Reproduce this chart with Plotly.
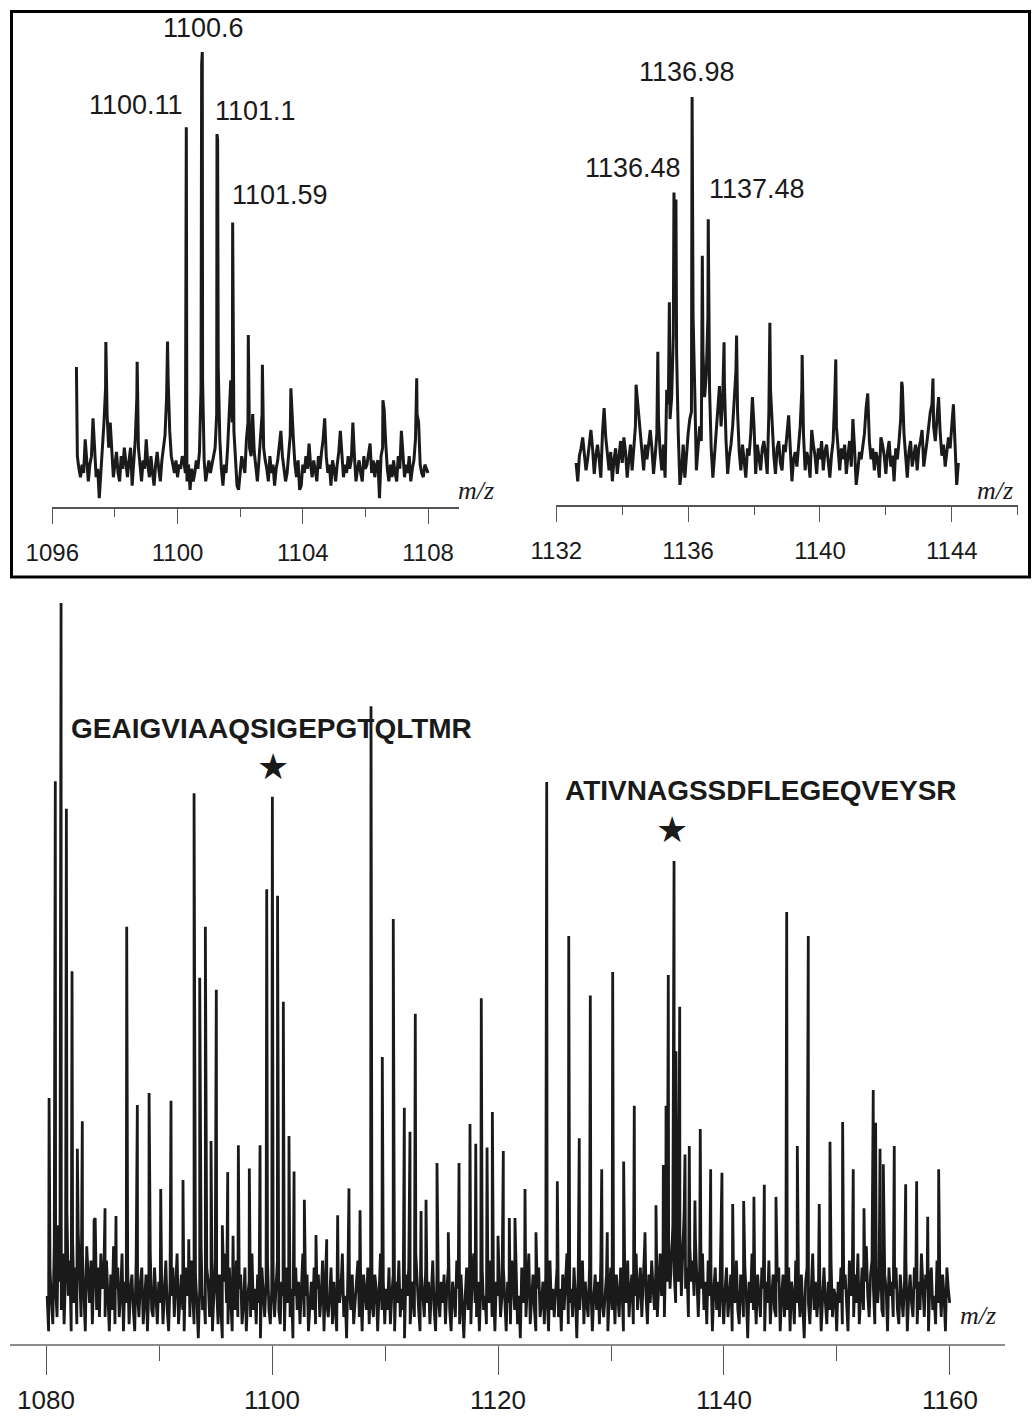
import plotly.graph_objects as go

# ---------------- data ----------------
# Top-left zoom spectrum (m/z 1096-1109): baseline on a 0.05 grid + tall peak apexes
left_noise_start = 1096.80
left_noise_step = 0.05
left_noise = [
    4, 1, -1, 2, 0, 8, 3, -2, 2, 4, 13, 5, -1, 1, -6, 0, 5, 12, 20, 14,
    6, 12, 4, -1, 2, 5, 0, -2, 4, 1, 6, 2, -1, 3, 6, -3, 2, 8, 18, 6,
    2, -2, 3, 1, 8, 2, -1, 4, 0, -3, 2, 5, 1, -2, 3, 6, 9, 18, 22, 10,
    4, 2, 0, 3, -1, 2, 1, 4, 3, 0, -2, 2, -4, 1, -2, 0, 3, 1, 5, 20,
    22, 3, -2, 1, 3, 0, 2, 4, 6, 14, 25, 8, 1, -3, 2, 0, 6, 14, 22, 12,
    10, 2, -3, -4, 1, 4, 2, 0, 8, 12, 6, 4, 14, 5, 1, -2, 3, 8, 14, 6,
    3, 1, -2, 4, 0, 2, -3, 1, 3, 6, 10, 4, 1, -2, 0, 5, 9, 14, 8, 2,
    -1, 3, -4, -3, 2, 0, 4, 1, 7, 2, -1, 3, 0, -2, 4, 1, 5, 8, 13, 4,
    0, 2, -3, 3, 1, -2, 2, 5, 10, 3, -1, 2, 0, 4, 1, 3, 12, 4, -2, 1,
    3, 0, -2, 4, 1, 2, 5, 7, 0, 3, -1, 2, 3, -6, 4, 6, 15, 7, 1, -2,
    2, -1, 3, 0, -2, 4, 1, 10, 3, -1, 2, 0, 4, -2, 1, 3, 8, 14, 12, 2,
    0, -1, 2, 1, 0,
]
left_peak_mz = [1096.77, 1097.71, 1098.71, 1099.68, 1100.28, 1100.77, 1100.79, 1101.26,
                1101.28, 1101.76, 1102.26, 1102.71, 1103.62, 1106.56, 1107.64]
left_peak_int = [25.2, 31.1, 26.4, 31.2, 82.1, 97.0, 100.0, 80.5,
                 79.0, 59.5, 32.8, 25.7, 20.1, 17.3, 22.5]
left_labels = ["1100.11", "1100.6", "1101.1", "1101.59"]

# Top-right zoom spectrum (m/z 1132-1146)
right_noise_start = 1132.60
right_noise_step = 0.05
right_noise = [
    0, -5, 2, 4, 7, 3, -2, 1, 6, 9, 4, -3, 2, 5, 1, -4, 8, 15, 7, 2,
    -2, 3, -5, 1, 4, -3, 2, 6, 0, 7, 3, -4, 1, 5, -2, 4, 10, 18, 14, 8,
    3, -2, 5, 1, 6, 9, 4, -3, 2, 8, 12, 3, -2, 5, -4, 20, 16, 12, 18, 35,
    60, 30, 8, -6, -2, 5, -4, 3, 8, 12, 14, 40, 20, -2, 4, 10, 6, 30, 18, 24,
    40, 20, 4, -4, 2, 8, 14, 21, 10, 18, 22, 6, -3, 2, 5, 10, 18, 25, 14, 3,
    -2, 5, 1, -4, 4, 2, 8, 18, 10, -3, 5, 1, -2, 4, 6, 2, -3, 14, 20, 10,
    2, -3, 4, 6, 0, -2, 5, 3, 9, 13, 4, -5, 1, 3, -1, 5, 10, 20, 8, -2,
    3, 1, -4, 9, 5, 2, -3, 4, 1, 6, -2, 3, 5, 0, -4, 2, 6, 18, 10, 3,
    -2, 4, 1, 5, -3, 2, 6, -1, 12, 4, -6, -2, 3, 1, 5, 8, 15, 19, 6, 1,
    4, -2, 3, 1, -4, 7, 5, 2, -3, 3, 6, -1, 2, -5, 4, 1, 6, 12, 21, 8,
    1, -4, 3, 6, -1, 2, 5, -2, 4, 6, 9, -1, 2, 6, 10, 14, 16, 10, 6, 12,
    18, 8, 2, 5, -1, 3, 7, 4, 10, 16, 5, -6, 0,
]
right_peak_mz = [1134.42, 1135.08, 1135.43, 1135.57, 1135.63, 1136.12, 1136.43, 1136.61,
                 1137.09, 1137.47, 1138.48, 1139.46, 1140.48, 1142.48, 1143.43]
right_peak_int = [21.4, 30.4, 43.9, 73.9, 72.0, 100.0, 56.6, 66.6,
                  33.0, 34.8, 38.3, 29.5, 28.3, 22.2, 23.1]
right_labels = ["1136.48", "1136.98", "1137.48"]

# Bottom full spectrum (m/z 1080-1160), baseline on a 0.125 grid
full_noise_start = 1080.1
full_noise_step = 0.125
full_noise = [
    2, -3, 6, 1, -2, 9, 3, -1, 12, 4, 0, 8, -2, 5, 14, 2, 7, -3, 10, 1,
    6, -2, 11, 3, -1, 8, 2, -3, 9, 4, 1, 7, -2, 5, 13, 0, 6, -1, 8, 3,
    4, -1, 7, 2, -3, 5, 0, 9, -2, 3, 6, -1, 2, 8, -3, 4, 1, 6, -2, 3,
    5, 0, -3, 7, 2, -1, 4, 6, -2, 1, 5, -3, 3, 8, 0, -1, 6, 2, -2, 4,
    1, 5, -2, 3, 7, 0, -3, 4, 2, 6, -1, 3, 8, -2, 1, 5, 0, -3, 6, 2,
    4, -1, 7, 3, -2, 5, 1, -4, 3, 9, 0, 2, -2, 6, 4, -1, 5, -3, 2, 7,
    3, -2, 5, 0, -4, 4, 8, 1, -2, 6, 2, -3, 4, 0, 7, -1, 3, 5, -2, 1,
    6, -3, 2, 4, -1, 8, 0, 3, -2, 5, 1, -4, 6, 2, -1, 4, 7, 0, -2, 3,
    5, -1, 3, 7, 0, -2, 4, 2, -3, 6, 1, 5, -1, 3, -4, 2, 6, 0, 4, -2,
    3, 8, -1, 2, 5, -3, 1, 4, 0, 6, -2, 3, 5, -1, 2, 7, -3, 4, 1, -1,
    2, 6, -2, 4, 0, -3, 5, 1, 3, 8, -1, 2, -4, 6, 3, 0, 5, -2, 1, 4,
    7, -1, 3, -3, 5, 2, 0, 6, -2, 4, 1, -1, 5, 3, -3, 2, 8, 0, 4, -2,
    3, 0, 6, -2, 2, 5, -3, 4, 1, 7, -1, 3, 0, -4, 5, 2, 6, -2, 1, 4,
    -1, 8, 3, 0, -3, 5, 2, -1, 6, 1, 4, -2, 3, 7, 0, -3, 5, 2, -1, 4,
    1, 5, -2, 3, 6, 0, -3, 4, 2, -1, 7, 3, -2, 5, 1, -4, 2, 6, 0, 3,
    -2, 5, 8, 1, -1, 4, -3, 3, 6, 0, 2, -2, 5, 1, 7, -1, 3, -3, 4, 2,
    5, -1, 2, 6, 0, -3, 4, 1, -2, 7, 3, 0, 5, -2, 2, -4, 6, 1, 3, -1,
    4, 8, -2, 2, 5, 0, -3, 3, 6, -1, 1, 4, -2, 5, 2, -3, 7, 0, 3, -1,
    2, 6, -1, 3, -3, 5, 0, 4, 8, -2, 1, 3, -1, 6, 2, -4, 5, 0, 3, 7,
    -2, 4, 1, -1, 6, 3, -3, 2, 5, 0, 4, -2, 7, 1, -1, 3, 5, -3, 2, 6,
    0, 4, -2, 5, 2, -1, 6, 3, -3, 4, 1, 7, -1, 3, 5, -2, 2, 8, 0, 4,
    6, -1, 3, 9, 2, -2, 5, 1, 7, 3, 0, 6, -1, 4, 8, 2, 5, -1, 9, 4,
    10, 3, 7, 12, 5, 1, 9, 4, 11, 2, 8, 14, 3, 6, -1, 9, 4, 7, 2, 10,
    5, -1, 6, 3, 8, 0, 4, -2, 7, 2, 5, -3, 3, 6, 0, 4, -1, 8, 2, -2,
    3, 6, -1, 2, 5, -3, 4, 1, 7, 0, -2, 5, 3, -1, 6, 2, -4, 4, 1, 8,
    0, 3, -2, 5, 2, -1, 6, 3, -3, 4, 1, 7, -2, 2, 5, 0, -1, 4, 6, -3,
    2, 5, -1, 3, 0, 6, -3, 4, 2, -2, 7, 1, 3, -1, 5, 0, -4, 4, 6, 1,
    -2, 3, 8, 0, 4, -1, 2, 5, -3, 3, 6, 1, -2, 4, 0, 7, -1, 3, 2, -3,
    4, 1, 6, -2, 3, 5, 0, -3, 7, 2, 4, -1, 5, 1, 8, -2, 3, 6, 0, 4,
    9, 2, -1, 5, 7, 3, -2, 6, 1, 4, 8, 0, -1, 5, 3, -3, 6, 2, 4, -1,
    3, 6, 0, -2, 5, 2, -1, 4, 7, -3, 2, 5, 1, -1, 6, 3, -2, 4, 0, 8,
    2, -1, 5, 3, -3, 4, 6, 0, 2, -2, 7, 1, 4, -1, 5, 2, -3, 6, 3, 1,
]
full_peak_mz = [
    1080.27, 1080.82, 1081.33, 1081.80, 1082.30, 1082.77, 1083.21, 1084.25, 1085.22, 1086.19,
    1087.14, 1088.08, 1089.12, 1090.15, 1091.06, 1092.12, 1092.63, 1093.10, 1093.60, 1094.10,
    1094.60, 1095.07, 1095.60, 1096.08, 1096.55, 1097.02, 1097.99, 1098.94, 1099.53, 1100.03,
    1100.49, 1101.00, 1101.50, 1101.95, 1102.86, 1103.89, 1104.84, 1105.81, 1106.81, 1107.79,
    1108.76, 1109.76, 1110.73, 1111.71, 1112.21, 1112.68, 1113.19, 1113.63, 1114.60, 1115.60,
    1116.55, 1117.52, 1118.03, 1118.52, 1119.03, 1119.50, 1120.00, 1120.47, 1121.00, 1121.50,
    1122.39, 1123.36, 1124.31, 1125.25, 1126.26, 1127.19, 1128.17, 1129.18, 1129.67, 1130.15,
    1131.12, 1132.06, 1133.01, 1133.98, 1134.63, 1134.87, 1135.07, 1135.58, 1135.75, 1136.08,
    1136.55, 1136.93, 1137.43, 1137.90, 1138.82, 1139.82, 1140.77, 1141.74, 1142.65, 1143.57,
    1144.60, 1145.55, 1146.49, 1147.46, 1148.43, 1149.38, 1150.50, 1151.44, 1152.39, 1153.21,
    1153.42, 1153.81, 1154.10, 1155.07, 1156.08, 1157.05, 1158.03, 1159.00,
]
full_peak_int = [
    30.0, 74.8, 100.0, 70.9, 47.9, 22.8, 26.7, 12.7, 14.4, 13.3,
    54.2, 29.0, 30.7, 17.1, 29.6, 18.4, 10.0, 73.1, 47.0, 54.2,
    23.9, 45.3, 12.0, 19.5, 10.5, 23.3, 20.0, 23.3, 59.5, 72.6,
    58.6, 43.6, 24.6, 19.6, 15.6, 10.6, 10.0, 13.4, 17.2, 14.1,
    85.4, 35.8, 55.3, 28.6, 25.2, 41.9, 14.0, 15.6, 20.8, 11.0,
    20.8, 26.3, 23.5, 44.1, 23.0, 28.0, 10.5, 22.5, 13.0, 13.0,
    17.1, 11.0, 74.7, 18.2, 52.9, 24.3, 44.5, 19.9, 11.0, 47.8,
    21.0, 28.9, 11.0, 14.8, 20.5, 28.9, 47.4, 63.5, 36.6, 42.9,
    22.0, 23.2, 15.5, 25.6, 19.9, 19.4, 15.0, 15.4, 16.0, 17.7,
    16.0, 56.3, 23.2, 52.9, 15.0, 23.8, 26.6, 19.9, 14.4, 31.1,
    26.5, 22.8, 20.6, 23.2, 17.8, 18.2, 13.2, 19.9,
]
sequences = ["GEAIGVIAAQSIGEPGTQLTMR", "ATIVNAGSSDFLEGEQVEYSR"]

# ---------------- layout helpers ----------------
W, H = 1036, 1416
INK = "#1a1a1a"


def px(x):
    return x / W


def py(y):
    return 1 - y / H


def merge(start, step, noise, pmz, pint):
    pts = [(start + i * step, v) for i, v in enumerate(noise)]
    pts += list(zip(pmz, pint))
    pts.sort(key=lambda p: p[0])
    return [p[0] for p in pts], [p[1] for p in pts]


fig = go.Figure()
for (xs, ys), xa, ya, lw in [
    (merge(left_noise_start, left_noise_step, left_noise, left_peak_mz, left_peak_int), "x", "y", 3.0),
    (merge(right_noise_start, right_noise_step, right_noise, right_peak_mz, right_peak_int), "x2", "y2", 3.0),
    (merge(full_noise_start, full_noise_step, full_noise, full_peak_mz, full_peak_int), "x3", "y3", 2.8),
]:
    fig.add_trace(go.Scatter(x=xs, y=ys, mode="lines", xaxis=xa, yaxis=ya,
                             line=dict(color=INK, width=lw), hoverinfo="skip"))

tick_font_top = dict(family="Liberation Sans, Arial, sans-serif", size=24, color=INK)
tick_font_bot = dict(family="Liberation Sans, Arial, sans-serif", size=26, color=INK)


def xaxis(domain, rng, anchor, tick0, dtick, mdtick, tlen, mlen, font, lcol, lw, standoff):
    return dict(domain=domain, range=rng, anchor=anchor, showline=True, linecolor=lcol,
                linewidth=lw, ticks="outside", ticklen=tlen, tickwidth=1, tickcolor="#555555",
                tick0=tick0, dtick=dtick, tickfont=font, showgrid=False, zeroline=False,
                ticklabelstandoff=standoff,
                minor=dict(ticks="outside", ticklen=mlen, tickwidth=1, tickcolor="#555555",
                           tick0=tick0, dtick=mdtick, showgrid=False))


fig.update_layout(
    width=W, height=H, margin=dict(l=0, r=0, t=0, b=0, autoexpand=False),
    paper_bgcolor="white", plot_bgcolor="rgba(0,0,0,0)", showlegend=False,
    xaxis=xaxis([px(52), px(459)], [1095.99, 1108.99], "y", 1096, 4, 2, 15, 8,
                tick_font_top, "#555555", 1.5, 8),
    yaxis=dict(domain=[py(507), py(15)], range=[-8.08, 108.79], visible=False),
    xaxis2=xaxis([px(556), px(1018)], [1131.99, 1146.01], "y2", 1132, 4, 2, 15, 8,
                 tick_font_top, "#555555", 1.5, 8),
    yaxis2=dict(domain=[py(505), py(15)], range=[-11.48, 122.4], visible=False),
    xaxis3=xaxis([px(10), px(1005)], [1076.81, 1164.87], "y3", 1080, 20, 10, 29, 15,
                 tick_font_bot, "#8c8c8c", 2, 3),
    yaxis3=dict(domain=[py(1344), py(590)], range=[-4.81, 101.84], visible=False),
)

# frame around the two zoomed panels
fig.add_shape(type="rect", xref="paper", yref="paper",
              x0=px(11.5), x1=px(1029.5), y0=py(577), y1=py(11.5),
              line=dict(color="black", width=3), fillcolor="rgba(0,0,0,0)")

num_font = dict(family="Liberation Sans, Arial, sans-serif", size=27, color=INK)
bold_font = dict(family="Liberation Sans, Arial, sans-serif", size=28, color=INK)
mz_font = dict(family="Liberation Serif, Times New Roman, serif", size=26, color=INK)
star_font = dict(family="DejaVu Sans, sans-serif", size=36, color=INK)

anns = [
    (left_labels[0], 185, 105, "right", num_font),
    (left_labels[1], 203, 28, "center", num_font),
    (left_labels[2], 213, 111, "left", num_font),
    (left_labels[3], 230, 195, "left", num_font),
    (right_labels[0], 583, 168, "left", num_font),
    (right_labels[1], 687, 72, "center", num_font),
    (right_labels[2], 707, 189, "left", num_font),
    ("<i>m/z</i>", 476, 490, "center", mz_font),
    ("<i>m/z</i>", 995, 490, "center", mz_font),
    ("<i>m/z</i>", 978, 1315, "center", mz_font),
    ("<b>%s</b>" % sequences[0], 69, 728, "left", bold_font),
    ("<b>%s</b>" % sequences[1], 563, 790, "left", bold_font),
    ("\u2605", 273, 766, "center", star_font),
    ("\u2605", 672, 830, "center", star_font),
]
for text, x, y, xa, f in anns:
    fig.add_annotation(text=text, x=px(x), y=py(y), xref="paper", yref="paper",
                       xanchor=xa, yanchor="middle", showarrow=False, font=f)

fig.write_html("out.html", config={"displayModeBar": False},
               post_script="document.body.style.margin='0';")
